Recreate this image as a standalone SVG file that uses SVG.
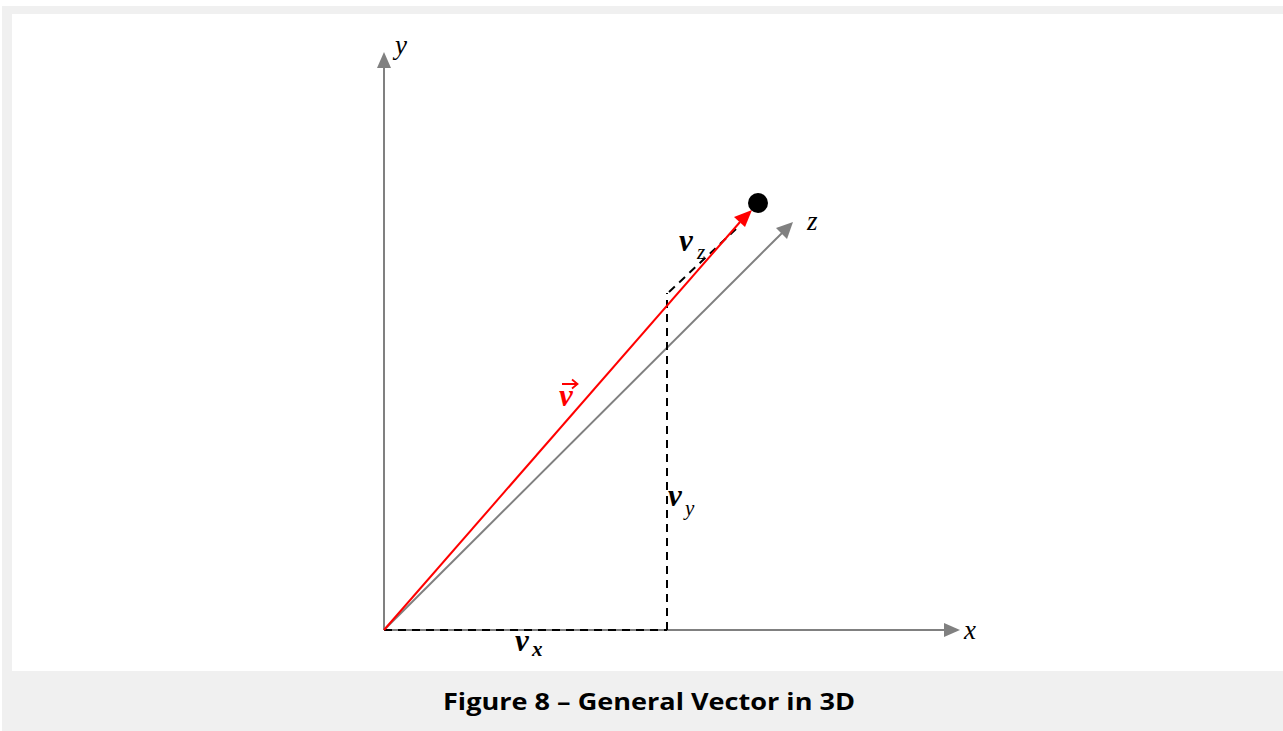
<svg xmlns="http://www.w3.org/2000/svg" width="1283" height="731" viewBox="0 0 1283 731">
<defs>
<style>
.axis{stroke:#808080;stroke-width:2;fill:none}
.vec{stroke:#ff0000;stroke-width:2;fill:none}
.dash{stroke:#000;stroke-width:2;stroke-dasharray:8,6;fill:none}
.lbl{font-family:"Liberation Serif","DejaVu Serif",serif;font-style:italic;font-size:27px;fill:#000}
.blbl{font-family:"Liberation Serif","DejaVu Serif",serif;font-style:italic;font-weight:bold;font-size:31px;fill:#000}
.sub{font-family:"Liberation Serif","DejaVu Serif",serif;font-style:italic;font-size:21px;fill:#000}
.cap{font-family:"Open Sans","Liberation Sans",sans-serif;font-weight:bold;font-size:24px;fill:#000}
</style>
</defs>
<rect x="0" y="0" width="1283" height="731" fill="#ffffff"/>
<rect x="2" y="6" width="1281" height="725" fill="#f0f0f0"/>
<rect x="12" y="14" width="1271" height="657" fill="#ffffff"/>
<g id="connectors">
<line class="axis" x1="384" y1="630" x2="384" y2="68"/>
<path d="M377,68 L384,52 L391,68 z" fill="#808080"/>
<line class="axis" x1="384" y1="630" x2="944" y2="630"/>
<path d="M944,623 L960,630 L944,637 z" fill="#808080"/>
<line class="axis" x1="384" y1="630" x2="782" y2="233"/>
<path d="M776,228 L793,222 L787,239 z" fill="#808080"/>
<line class="dash" x1="384" y1="630" x2="667" y2="630"/>
<line class="dash" x1="667" y1="630" x2="667" y2="293"/>
<line class="dash" x1="669" y1="292" x2="736" y2="229"/>
<line class="vec" x1="384" y1="630" x2="740" y2="222"/>
<path d="M734,217 L752,210 L745,227 z" fill="#ff0000"/>
</g>
<g id="point"><circle cx="758" cy="203" r="10" fill="#000"/></g>
<g id="label-y"><text class="lbl" x="395" y="54">y</text></g>
<g id="label-x"><text class="lbl" x="964" y="639">x</text></g>
<g id="label-z"><text class="lbl" x="807" y="230">z</text></g>
<g id="label-vz"><text class="blbl" x="679" y="251">v</text><text class="sub" x="697" y="259">z</text></g>
<g id="label-vy"><text class="blbl" x="668" y="506">v</text><text class="sub" x="685" y="515">y</text></g>
<g id="label-vx"><text class="blbl" x="515" y="651">v</text><text class="sub" x="532" y="656" font-weight="bold">x</text></g>
<g id="label-v"><text class="blbl" x="559" y="406" style="fill:#ff0000">v</text>
<path d="M562,384 L577,384 M572,379.5 L577.5,384 L572,388.5" stroke="#ff0000" stroke-width="1.8" fill="none"/></g>
<g id="caption"><text class="cap" x="649" y="710" text-anchor="middle" textLength="412" lengthAdjust="spacingAndGlyphs">Figure 8 – General Vector in 3D</text></g>
</svg>
